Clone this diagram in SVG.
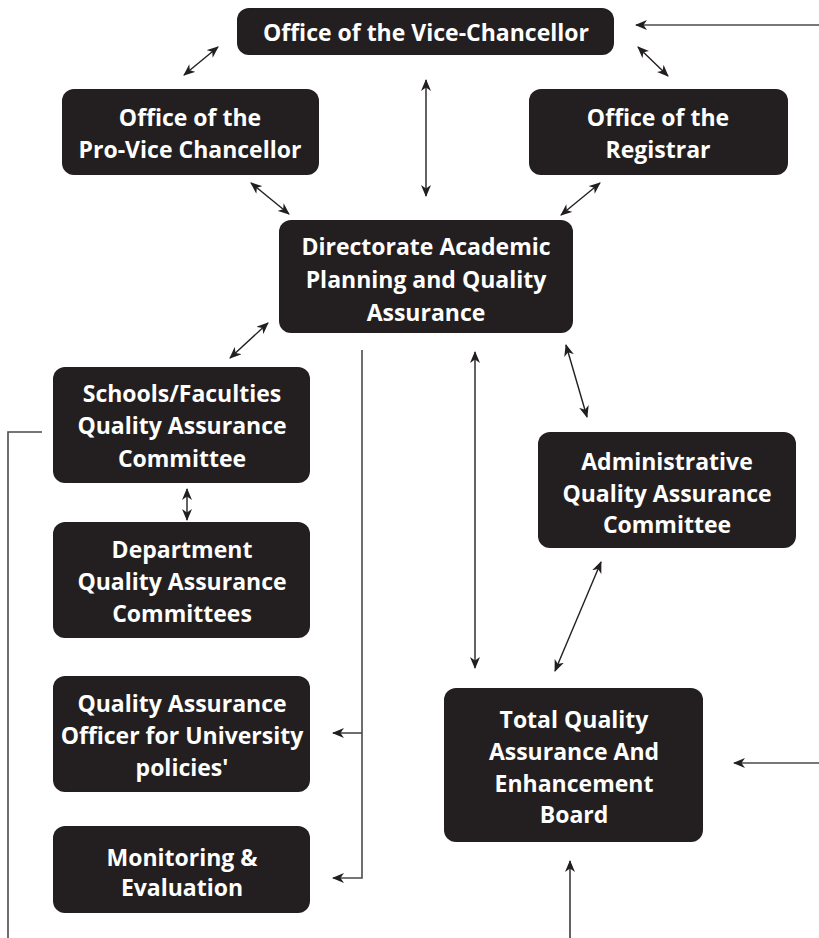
<svg xmlns="http://www.w3.org/2000/svg" width="819" height="938" viewBox="0 0 819 938">
<defs>
<marker id="ah" viewBox="0 0 12 10" refX="11" refY="5" markerWidth="12" markerHeight="10" markerUnits="userSpaceOnUse" orient="auto-start-reverse">
<path d="M0,0 L12,5 L0,10 L3.5,5 z" fill="#231f20"/>
</marker>
<style>
.box{fill:#231f20}
.t{font-family:"Open Sans","Noto Sans","DejaVu Sans",sans-serif;font-weight:700;font-size:23px;fill:#ffffff;text-anchor:middle}
.c{fill:none;stroke:#231f20;stroke-width:1.4}
.g{fill:none;stroke:#4a4a4a;stroke-width:1.6}
</style>
</defs>
<rect width="819" height="938" fill="#ffffff"/>
<g id="connectors">
<path class="g" d="M819,25 L636,25" marker-end="url(#ah)"/>
<path class="c" d="M218,47 L184,75" marker-start="url(#ah)" marker-end="url(#ah)"/>
<path class="c" d="M638,47 L668,76" marker-start="url(#ah)" marker-end="url(#ah)"/>
<path class="c" d="M426,80 L426,196" marker-start="url(#ah)" marker-end="url(#ah)"/>
<path class="c" d="M251,183 L289,214" marker-start="url(#ah)" marker-end="url(#ah)"/>
<path class="c" d="M600,183 L561,215" marker-start="url(#ah)" marker-end="url(#ah)"/>
<path class="c" d="M268,323 L230,358" marker-start="url(#ah)" marker-end="url(#ah)"/>
<path class="g" d="M362,350 L362,878 L333,878" marker-end="url(#ah)"/>
<path class="g" d="M362,733 L333,733" marker-end="url(#ah)"/>
<path class="c" d="M475,352 L475,668" marker-start="url(#ah)" marker-end="url(#ah)"/>
<path class="c" d="M566,345 L587,417" marker-start="url(#ah)" marker-end="url(#ah)"/>
<path class="c" d="M601,562 L555,671" marker-start="url(#ah)" marker-end="url(#ah)"/>
<path class="c" d="M187,489 L187,520" marker-start="url(#ah)" marker-end="url(#ah)"/>
<path class="g" d="M42,432 L8,432 L8,938"/>
<path class="g" d="M819,763 L734,763" marker-end="url(#ah)"/>
<path class="c" d="M570,938 L570,861" marker-end="url(#ah)"/>
</g>
<g id="vc">
<rect class="box" x="237" y="8" width="377" height="47" rx="12"/>
<text class="t" x="426" y="41">Office of the Vice-Chancellor</text>
</g>
<g id="provc">
<rect class="box" x="62" y="89" width="257" height="86" rx="12"/>
<text class="t" x="190" y="126">Office of the</text>
<text class="t" x="190" y="158">Pro-Vice Chancellor</text>
</g>
<g id="registrar">
<rect class="box" x="529" y="89" width="259" height="86" rx="12"/>
<text class="t" x="658" y="126">Office of the</text>
<text class="t" x="658" y="158">Registrar</text>
</g>
<g id="directorate">
<rect class="box" x="279" y="220" width="294" height="113" rx="12"/>
<text class="t" x="426" y="255">Directorate Academic</text>
<text class="t" x="426" y="288">Planning and Quality</text>
<text class="t" x="426" y="321">Assurance</text>
</g>
<g id="schools">
<rect class="box" x="53" y="367" width="257" height="116" rx="12"/>
<text class="t" x="182" y="402">Schools/Faculties</text>
<text class="t" x="182" y="434">Quality Assurance</text>
<text class="t" x="182" y="467">Committee</text>
</g>
<g id="department">
<rect class="box" x="53" y="522" width="257" height="116" rx="12"/>
<text class="t" x="182" y="558">Department</text>
<text class="t" x="182" y="590">Quality Assurance</text>
<text class="t" x="182" y="622">Committees</text>
</g>
<g id="qao">
<rect class="box" x="53" y="676" width="257" height="116" rx="12"/>
<text class="t" x="182" y="712">Quality Assurance</text>
<text class="t" x="182" y="744">Officer for University</text>
<text class="t" x="182" y="776">policies'</text>
</g>
<g id="me">
<rect class="box" x="53" y="826" width="257" height="87" rx="12"/>
<text class="t" x="182" y="866">Monitoring &amp;</text>
<text class="t" x="182" y="896">Evaluation</text>
</g>
<g id="administrative">
<rect class="box" x="538" y="432" width="258" height="116" rx="12"/>
<text class="t" x="667" y="470">Administrative</text>
<text class="t" x="667" y="502">Quality Assurance</text>
<text class="t" x="667" y="533">Committee</text>
</g>
<g id="tqaeb">
<rect class="box" x="444" y="688" width="259" height="154" rx="12"/>
<text class="t" x="574" y="728">Total Quality</text>
<text class="t" x="574" y="760">Assurance And</text>
<text class="t" x="574" y="792">Enhancement</text>
<text class="t" x="574" y="823">Board</text>
</g>
</svg>
